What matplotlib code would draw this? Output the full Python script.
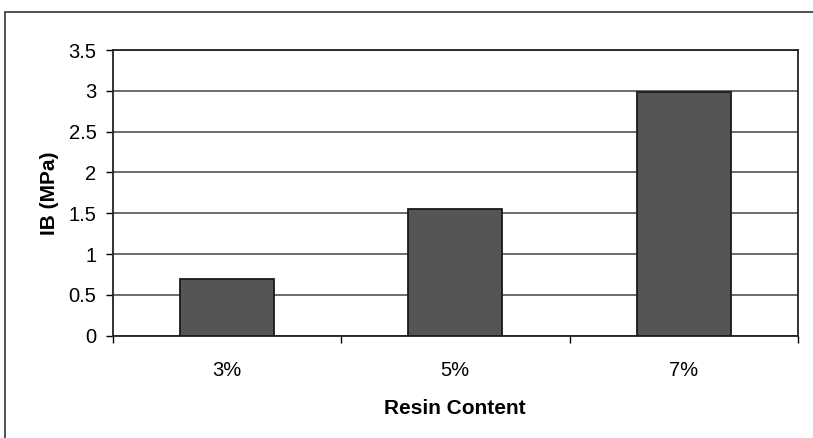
import numpy as np
import matplotlib.pyplot as plt
from matplotlib.patches import Rectangle

plt.rcParams['font.family'] = ['Liberation Sans', 'DejaVu Sans']

categories = ['3%', '5%', '7%']
ib_values = [0.69, 1.55, 2.99]

fig = plt.figure(figsize=(8.13, 4.38), dpi=100)
ax = fig.add_axes([112.5 / 813, 1 - 335.7 / 438, (798 - 112.5) / 813, (335.7 - 50) / 438])

# outer chart border
fig.patches.append(Rectangle((5 / 813, -0.01), 1.2, 1 - 12 / 438 + 0.01, transform=fig.transFigure,
                             fill=False, edgecolor='#333333', linewidth=1.2))

x = np.arange(len(categories))
ax.bar(x, ib_values, width=0.41, color='#555555', edgecolor='#1a1a1a', linewidth=1.3, zorder=3)

ax.set_xlim(-0.5, 2.5)
ax.set_ylim(0, 3.5)
ax.set_yticks(np.arange(0, 3.51, 0.5))
ax.set_yticklabels(['0', '0.5', '1', '1.5', '2', '2.5', '3', '3.5'])
ax.set_xticks(x)
ax.set_xticklabels(categories)
ax.set_xticks([-0.5, 0.5, 1.5, 2.5], minor=True)
ax.tick_params(axis='x', which='major', length=0, pad=18, labelsize=14.5)
ax.tick_params(axis='x', which='minor', length=5, width=1, direction='out')
ax.tick_params(axis='y', length=5, width=1, labelsize=14.5, pad=6.5)

ax.yaxis.grid(True, color='#444444', linewidth=1.1, zorder=0)
for s in ax.spines.values():
    s.set_color('#222222')
    s.set_linewidth(1.3)

ax.set_xlabel('Resin Content', fontweight='bold', fontsize=15, labelpad=14)
ax.set_ylabel('IB (MPa)', fontweight='bold', fontsize=15, labelpad=7)

fig.savefig('out.png', dpi=100)
